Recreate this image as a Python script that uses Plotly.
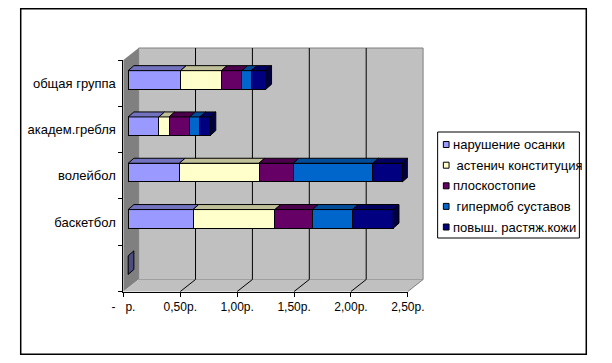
import plotly.graph_objects as go

# ---------------- data ----------------
categories = ["общая группа", "академ.гребля", "волейбол", "баскетбол", ""]
series_names = ["нарушение осанки", " астенич конституция", "плоскостопие",
                " гипермоб суставов", "повыш. растяж.кожи"]
narushenie_osanki = [0.46, 0.27, 0.45, 0.57, 0.0]
astenich_konstitutsiya = [0.36, 0.09, 0.70, 0.72, 0.0]
ploskostopie = [0.18, 0.18, 0.30, 0.33, 0.0]
gipermob_sustavov = [0.08, 0.09, 0.70, 0.35, 0.0]
povysh_rastyazh_kozhi = [0.13, 0.09, 0.26, 0.36, 0.0]
x_tick_values = [0, 0.5, 1.0, 1.5, 2.0, 2.5]
x_tick_labels = ["-\u00a0\u00a0\u00a0р.", "0,50р.", "1,00р.", "1,50р.", "2,00р.", "2,50р."]

series_values = [narushenie_osanki, astenich_konstitutsiya, ploskostopie,
                 gipermob_sustavov, povysh_rastyazh_kozhi]
colors = ["#9999FF", "#FFFFCC", "#660066", "#0066CC", "#000080"]

# ---------------- geometry (page pixels) ----------------
PAGE_OFF = 8            # default body margin of the html page
W, H = 612 - 2 * PAGE_OFF, 363 - 2 * PAGE_OFF
PPU = 119.6            # pixels per 1.0 on value axis
FX0 = 116.7            # front plane x of value 0
FX1 = FX0 + 2.5 * PPU  # front plane x of value 2.5
FYT, FYB = 60.0, 291.5  # front plane top / bottom
BDX, BDY = 16.0, -12.0  # depth offset of back wall
BAR_DX, BAR_DY = 5.0, -3.2  # bar plane offset from front plane
FACE_DX, FACE_DY = 6.0, -5.0  # bar depth
NCAT = len(categories)
ROW = (FYB - FYT) / NCAT
BAR_W = 18.6 / ROW
FONT = "Liberation Sans, Arial, sans-serif"


def px(x):
    return (x - PAGE_OFF) / W


def py(y):
    return 1 - (y - PAGE_OFF) / H


def shade(hexcol, f):
    h = hexcol.lstrip("#")
    r, g, b = (int(h[i:i + 2], 16) for i in (0, 2, 4))
    return "#%02x%02x%02x" % (int(r * f), int(g * f), int(b * f))


positions = [NCAT - 1 - i for i in range(NCAT)]

fig = go.Figure()
for name, vals, col in zip(series_names, series_values, colors):
    fig.add_trace(go.Bar(
        y=positions, x=vals, orientation="h", name=name, width=BAR_W,
        marker=dict(color=col, line=dict(color="black", width=1)),
        showlegend=False, hoverinfo="x+name",
    ))
fig.add_trace(go.Scatter(x=[None], y=[None], xaxis="x2", yaxis="y2",
                         showlegend=False, hoverinfo="skip"))

shapes = []
shapes.append(dict(type="rect", xref="paper", yref="paper", layer="below",
                   x0=px(FX0 + BDX), x1=px(FX1 + BDX), y0=py(FYB + BDY), y1=py(FYT + BDY),
                   fillcolor="#C0C0C0", line=dict(color="#808080", width=1)))
side = "M{},{} L{},{} L{},{} L{},{} Z".format(
    px(FX0), py(FYT), px(FX0 + BDX), py(FYT + BDY),
    px(FX0 + BDX), py(FYB + BDY), px(FX0), py(FYB))
shapes.append(dict(type="path", xref="paper", yref="paper", layer="below", path=side,
                   fillcolor="#808080", line=dict(width=0)))
floor = "M{},{} L{},{} L{},{} L{},{} Z".format(
    px(FX0), py(FYB), px(FX0 + BDX), py(FYB + BDY),
    px(FX1 + BDX), py(FYB + BDY), px(FX1), py(FYB))
shapes.append(dict(type="path", xref="paper", yref="paper", layer="below", path=floor,
                   fillcolor="#C0C0C0", line=dict(width=0)))
shapes.append(dict(type="line", xref="paper", yref="paper", layer="below",
                   x0=px(FX1), y0=py(FYB), x1=px(FX1 + BDX), y1=py(FYB + BDY),
                   line=dict(color="#808080", width=1)))
for v in x_tick_values[1:-1]:
    xf = FX0 + v * PPU
    shapes.append(dict(type="line", xref="paper", yref="paper", layer="below",
                       x0=px(xf + BDX), x1=px(xf + BDX), y0=py(FYT + BDY), y1=py(FYB + BDY),
                       line=dict(color="black", width=1)))
    shapes.append(dict(type="line", xref="paper", yref="paper", layer="below",
                       x0=px(xf), y0=py(FYB), x1=px(xf + BDX), y1=py(FYB + BDY),
                       line=dict(color="black", width=1)))

dxv = FACE_DX / PPU
dyv = -FACE_DY / ROW
for ci, pos in enumerate(positions):
    cum = 0.0
    last_col = colors[0]
    yb, yt = pos - BAR_W / 2, pos + BAR_W / 2
    for vals, col in zip(series_values, colors):
        v = vals[ci]
        if v <= 0:
            continue
        x0, x1 = cum, cum + v
        path = "M{},{} L{},{} L{},{} L{},{} Z".format(
            x0, yt, x1, yt, x1 + dxv, yt + dyv, x0 + dxv, yt + dyv)
        shapes.append(dict(type="path", xref="x", yref="y", layer="above", path=path,
                           fillcolor=shade(col, 0.75), line=dict(color="black", width=1)))
        cum = x1
        last_col = col
    path = "M{},{} L{},{} L{},{} L{},{} Z".format(
        cum, yb, cum, yt, cum + dxv, yt + dyv, cum + dxv, yb + dyv)
    shapes.append(dict(type="path", xref="x", yref="y", layer="above", path=path,
                       fillcolor=shade(last_col, 0.5), line=dict(color="black", width=1)))

# outer chart border (as close to the page edge as the figure allows)
shapes.append(dict(type="rect", xref="paper", yref="paper", layer="below",
                   x0=0.75 / W, x1=1 - 0.75 / W, y0=0.75 / H, y1=1 - 0.75 / H,
                   line=dict(color="black", width=1.5), fillcolor="rgba(0,0,0,0)"))

# legend box, keys and labels
LX0, LX1, LY0, LY1 = 447, 596, 132, 238
shapes.append(dict(type="rect", xref="paper", yref="paper", layer="below",
                   x0=px(LX0), x1=px(LX1), y0=py(LY1), y1=py(LY0),
                   line=dict(color="black", width=1), fillcolor="white"))
annotations = []
row_y = [144.5, 165.2, 185.8, 206.4, 227.0]
for name, col, ry in zip(series_names, colors, row_y):
    shapes.append(dict(type="rect", xref="paper", yref="paper", layer="above",
                       x0=px(453), x1=px(459), y0=py(ry + 3), y1=py(ry - 3),
                       fillcolor=col, line=dict(color="black", width=1)))
    annotations.append(dict(xref="paper", yref="paper", x=px(461), y=py(ry),
                            xanchor="left", yanchor="middle", showarrow=False,
                            text=name.replace(" ", "\u00a0", 1) if name.startswith(" ") else name,
                            font=dict(family=FONT, size=13, color="black")))

xdom = [px(FX0), px(FX1)]
ydom = [py(FYB), py(FYT)]
fig.update_layout(
    width=W, height=H, autosize=False,
    margin=dict(l=0, r=0, t=0, b=0),
    paper_bgcolor="white", plot_bgcolor="rgba(0,0,0,0)",
    barmode="stack", bargap=0,
    font=dict(family=FONT, size=12, color="black"),
    xaxis=dict(domain=xdom, range=[-BAR_DX / PPU, 2.5 - BAR_DX / PPU], visible=False,
               fixedrange=True),
    yaxis=dict(domain=ydom, range=[-0.5 + BAR_DY / ROW, NCAT - 0.5 + BAR_DY / ROW],
               visible=False, fixedrange=True),
    xaxis2=dict(domain=xdom, range=[0, 2.5], overlaying="x", anchor="y2", side="bottom",
                tickmode="array", tickvals=x_tick_values, ticktext=x_tick_labels,
                ticks="outside", ticklen=4, tickcolor="black", tickwidth=1,
                showline=True, linecolor="black", linewidth=1,
                showgrid=False, zeroline=False, fixedrange=True,
                tickfont=dict(family=FONT, size=12, color="black")),
    yaxis2=dict(domain=ydom, range=[-0.5, NCAT - 0.5], overlaying="y", anchor="x2", side="left",
                tickmode="array", tickvals=positions, ticktext=categories,
                ticks="outside", ticklen=4, tickcolor="rgba(0,0,0,0)",
                minor=dict(tickmode="array", tickvals=[p - 0.5 for p in range(NCAT + 1)],
                           ticks="outside", ticklen=4, tickcolor="black", tickwidth=1),
                showline=True, linecolor="black", linewidth=1,
                showgrid=False, zeroline=False, fixedrange=True,
                tickfont=dict(family=FONT, size=13, color="black")),
    shapes=shapes, annotations=annotations,
    showlegend=False,
)

fig.write_html("out.html", config={"displayModeBar": False, "staticPlot": True})
